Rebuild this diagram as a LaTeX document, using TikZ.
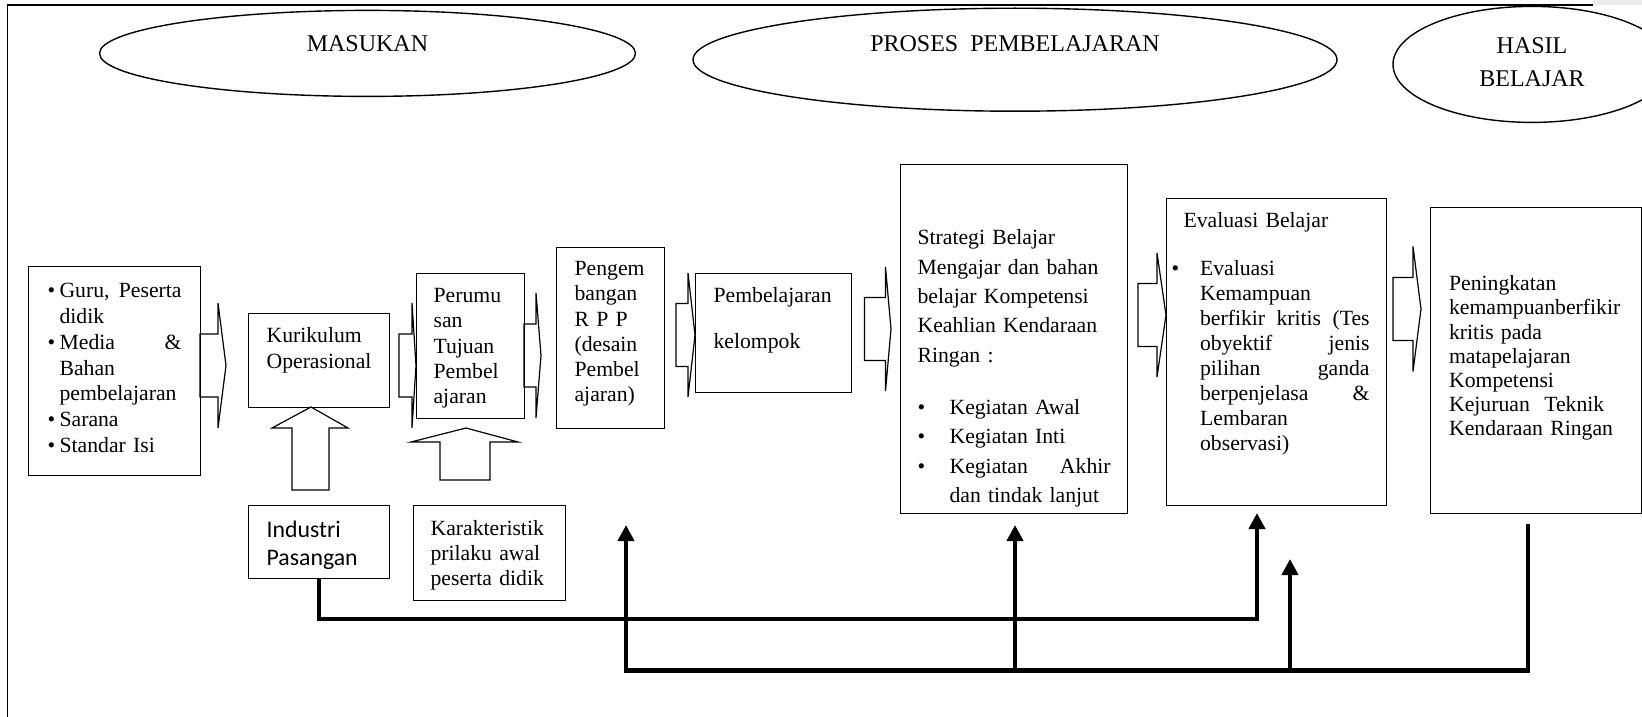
\documentclass[tikz,border=0pt]{standalone}
\usepackage{fontspec}
\setmainfont{Liberation Serif}
\newfontfamily\calibri{Carlito}
\usetikzlibrary{shapes.geometric,arrows.meta}
\newcommand{\bul}[1]{\makebox[#1][l]{\textbullet}}
\begin{document}
\begin{tikzpicture}[x=1pt,y=-1pt,
  box/.style={draw,line width=1.2pt,anchor=north west,inner ysep=0pt,align=left},
  body/.style={font=\fontsize{21.7pt}{#1}\selectfont},
  oval/.style={draw,ellipse,line width=1.4pt,inner sep=0pt,font=\fontsize{24pt}{33.4pt}\selectfont},
  hollow/.style={line width=1.2pt},
  link/.style={line width=4.6pt},
  linkhead/.style={-{Triangle[width=16pt,length=16pt]}}]
\useasboundingbox (0,0) rectangle (1642,717);
\clip (0,0) rectangle (1642,717);
\fill[black!8] (1593,0) rectangle (1642,5);
\draw[line width=1.3pt] (7.5,717) -- (7.5,5) -- (1593,5);

\node[oval,minimum width=536pt,minimum height=86pt,text height=10pt,text depth=13.4pt] (masukan) at (367.5,53.4) {MASUKAN};
\node[oval,minimum width=644pt,minimum height=103pt,text height=8pt,text depth=24pt] (proses) at (1015,59.7) {PROSES\ \ PEMBELAJARAN};
\node[oval,minimum width=278pt,minimum height=116pt,text width=120pt,align=center,text height=18pt,text depth=40.2pt] (hasil) at (1532,64.4) {HASIL\\BELAJAR};

\node[box,body=25.8pt,inner xsep=19pt,text width=134pt,text height=31pt,text depth=178pt] (guru) at (28,266)
  {\bul{12pt}Guru,\hfill Peserta\\\hspace*{12pt}didik\\\bul{12pt}Media\hfill\&\\\hspace*{12pt}Bahan\\\hspace*{12pt}pembelajaran\\\bul{12pt}Sarana\\\bul{12pt}Standar Isi};
\node[box,body=26pt,inner xsep=18pt,text width=105pt,text height=29pt,text depth=65pt] (kurikulum) at (248,313) {Kurikulum\\Operasional};
\node[box,font=\calibri\fontsize{23.8pt}{28pt}\selectfont,inner xsep=18pt,text width=105pt,text height=32pt,text depth=41pt] (industri) at (248,505) {Industri\\Pasangan};
\node[box,body=25.25pt,inner xsep=17pt,text width=74pt,text height=29pt,text depth=116pt] (perumusan) at (416,273) {Perumu\\san\\Tujuan\\Pembel\\ajaran};
\node[box,body=25pt,inner xsep=17.5pt,text width=117.5pt,text height=30pt,text depth=65pt] (karakteristik) at (412.5,505) {Karakteristik\\prilaku awal\\peserta didik};
\node[box,body=25.2pt,inner xsep=18pt,text width=72pt,text height=28pt,text depth=153pt] (rpp) at (556,247) {Pengem\\bangan\\R P P\\(desain\\Pembel\\ajaran)};
\node[box,body=46pt,inner xsep=18pt,text width=120pt,text height=29pt,text depth=90pt] (kelompok) at (695,273) {Pembelajaran\\kelompok};
\node[box,body=29.4pt,inner xsep=17pt,text width=193pt,text height=80pt,text depth=269pt] (strategi) at (900,164)
  {Strategi Belajar\\Mengajar dan bahan\\belajar Kompetensi\\Keahlian Kendaraan\\Ringan :\\[22.6pt]\bul{32pt}Kegiatan Awal\\\bul{32pt}Kegiatan Inti\\\bul{32pt}Kegiatan\hfill Akhir\\\hspace*{32pt}dan tindak lanjut};
\node[box,body=25pt,inner xsep=17pt,text width=186pt,text height=29pt,text depth=278pt] (evaluasi) at (1166,198)
  {Evaluasi Belajar\\[23pt]\makebox[0pt][r]{\textbullet\hspace{4.5pt}}\hspace*{16.5pt}Evaluasi\\\hspace*{16.5pt}Kemampuan\\\hspace*{16.5pt}berfikir\hfill kritis\hfill (Tes\\\hspace*{16.5pt}obyektif\hfill jenis\\\hspace*{16.5pt}pilihan\hfill ganda\\\hspace*{16.5pt}berpenjelasa\hfill\&\\\hspace*{16.5pt}Lembaran\\\hspace*{16.5pt}observasi)};
\node[box,body=24.2pt,inner xsep=18.5pt,text width=174pt,text height=83pt,text depth=223pt] (peningkatan) at (1430,207)
  {Peningkatan\\kemampuanberfikir\\kritis pada\\matapelajaran\\Kompetensi\\Kejuruan\ \ Teknik\\Kendaraan Ringan};

\foreach \a/\b/\c/\y/\h in {200/218/226/365.5/62.5, 399/412/416/365.5/62.5, 524/536/541/355.5/62.5, 676/688/695/335/62, 864.5/885.5/891/329/62, 1138/1157/1166/315/62, 1393/1413/1421/309/62.5}
  \draw[hollow] (\a,\y-31.5) -- (\b,\y-31.5) -- (\b,\y-\h) -- (\c,\y) -- (\b,\y+\h) -- (\b,\y+31.5) -- (\a,\y+31.5) -- cycle;
\draw[hollow] (292,490) -- (292,428) -- (272,428) -- (311,407) -- (348,428) -- (329,428) -- (329,490) -- cycle;
\draw[hollow] (440,480) -- (440,442) -- (411,442) -- (466,428) -- (518,442) -- (490,442) -- (490,480) -- cycle;

\coordinate (ya) at (0,619);
\coordinate (yb) at (0,670.5);
\coordinate (evtip) at (1257,513);
\coordinate (pstart) at (1528,524);
\coordinate (rpptip) at (626,525);
\coordinate (strtip) at (1015,525);
\coordinate (evtip2) at (1290,559);
\draw[link,linkhead] (industri.south) |- (evtip |- ya) -- (evtip);
\draw[link,linkhead] (pstart) |- (rpptip |- yb) -- (rpptip);
\draw[link,linkhead] (strtip |- yb) -- (strtip);
\draw[link,linkhead] (evtip2 |- yb) -- (evtip2);
\end{tikzpicture}
\end{document}
